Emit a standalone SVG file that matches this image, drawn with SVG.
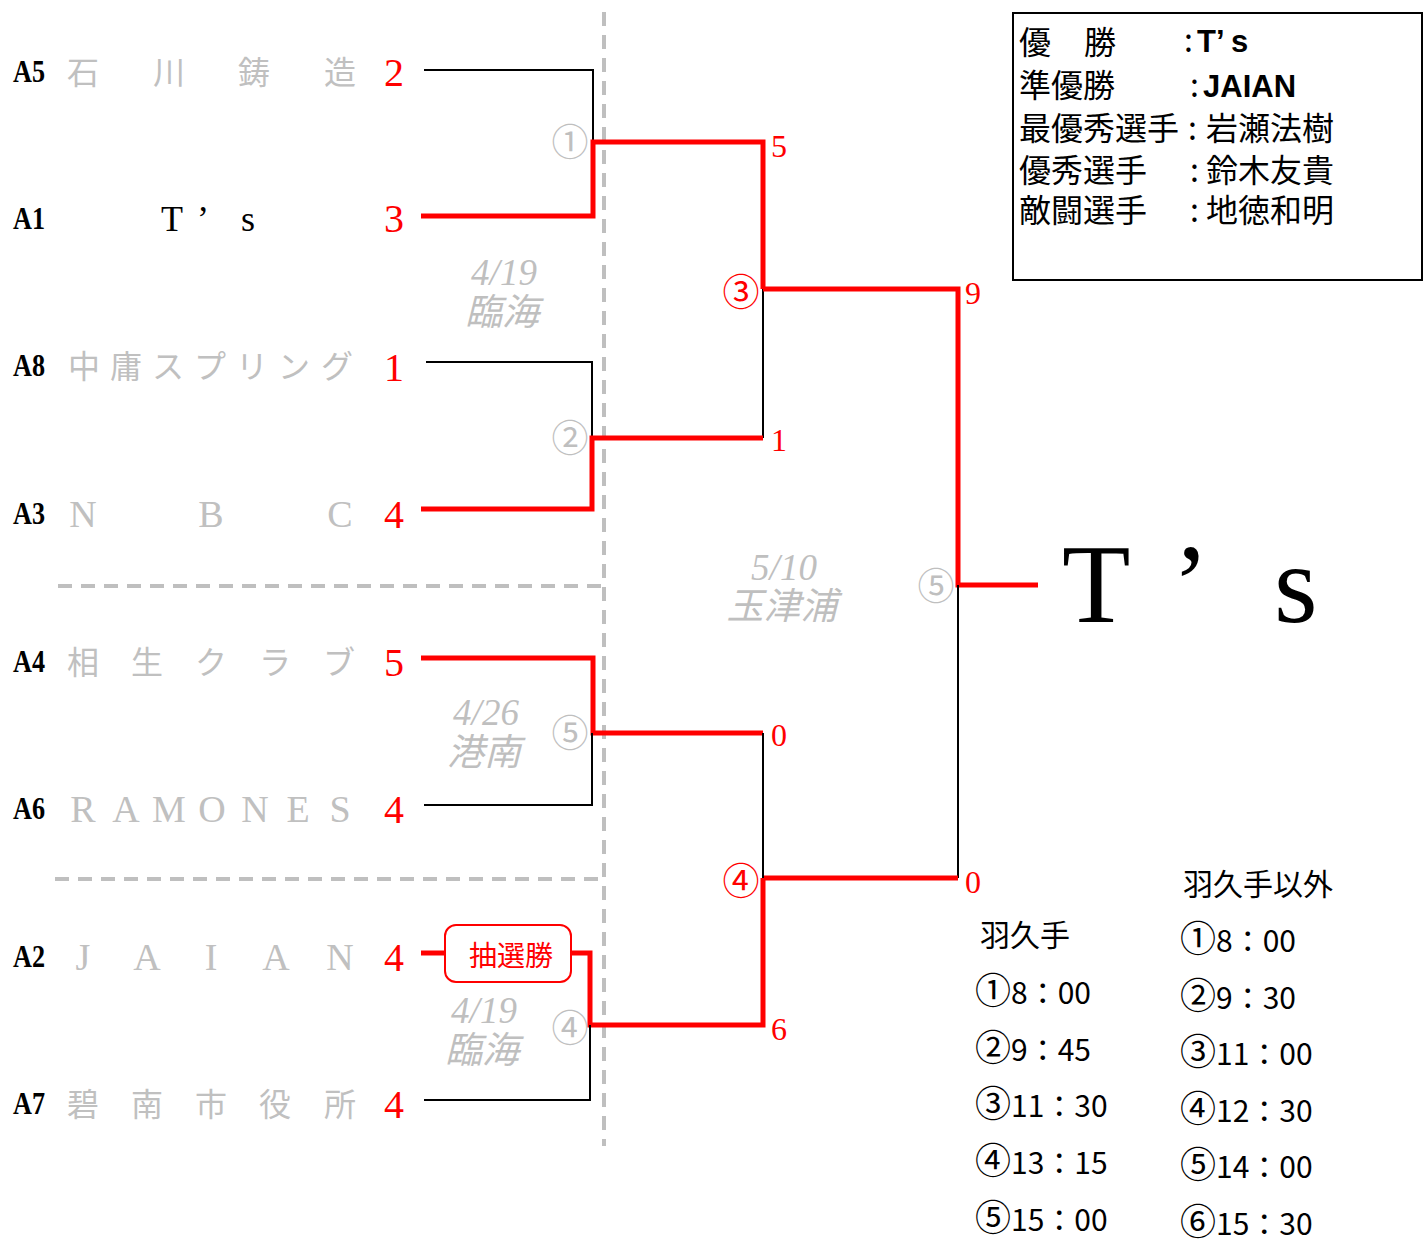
<svg xmlns="http://www.w3.org/2000/svg" width="1423" height="1247" viewBox="0 0 1423 1247">
<style>
.bg{fill:#fff}
.red{stroke:#ff0000;stroke-width:5;fill:none}
.blk{stroke:#000;stroke-width:2;fill:none}
.dash{stroke:#bfbfbf;stroke-width:4;stroke-dasharray:14 9;fill:none}
.seed{font-family:"Liberation Serif",serif;font-size:32px;font-weight:bold;fill:#000}
.name{font-family:"Liberation Serif","Noto Sans CJK JP",serif;font-size:32px;fill:#c0c0c0;text-anchor:middle}
.lat{font-size:38px}
.score{font-family:"Liberation Serif",serif;font-size:40px;fill:#ff0000;text-anchor:middle}
.rs{font-family:"Liberation Serif",serif;font-size:32px;fill:#ff0000}
.circ{font-family:"Noto Sans CJK JP",sans-serif;font-size:37px;fill:#bfbfbf;text-anchor:middle}
.circr{fill:#ff0000}
.date{font-family:"Liberation Serif","Noto Sans CJK JP",serif;font-style:italic;font-size:37px;fill:#bfbfbf;text-anchor:middle}
.sum{font-family:"Noto Sans CJK JP",sans-serif;font-size:32px;fill:#000}
.sumb{font-family:"Liberation Sans",sans-serif;font-weight:bold;font-size:31px}
.sch{font-family:"Noto Sans CJK JP",sans-serif;font-size:30px;fill:#000}
.cn{font-size:36px}
</style>
<rect class="bg" x="0" y="0" width="1423" height="1247"/>

<g id="dividers">
<line class="dash" x1="604" y1="12" x2="604" y2="1146"/>
<line class="dash" x1="58" y1="586" x2="604" y2="586"/>
<line class="dash" x1="55" y1="879" x2="604" y2="879"/>
</g>

<g id="connectors">
<polyline class="blk" points="424,70 593,70 593,142"/>
<polyline class="red" points="421,216 593,216 593,142 763,142 763,289"/>
<polyline class="blk" points="763,289 763,438"/>
<polyline class="blk" points="426,362 592,362 592,438"/>
<polyline class="red" points="421,509 592,509 592,438 763,438"/>
<polyline class="red" points="763,289 958,289 958,585 1038,585"/>
<polyline class="blk" points="958,585 958,878"/>
<polyline class="red" points="763,878 958,878"/>
<polyline class="red" points="421,658 593,658 593,733 763,733"/>
<polyline class="blk" points="763,733 763,878"/>
<polyline class="blk" points="424,805 592,805 592,733"/>
<polyline class="red" points="421,953 446,953"/>
<polyline class="red" points="570,953 590,953 590,1025 763,1025 763,878"/>
<polyline class="blk" points="424,1100 590,1100 590,1025"/>
</g>

<g id="team-A5">
<text class="seed" x="13" y="82" textLength="32" lengthAdjust="spacingAndGlyphs">A5</text>
<text class="name" x="83 169 254 340" y="84">石川鋳造</text>
<text class="score" x="394" y="86">2</text>
</g>
<g id="team-A1">
<text class="seed" x="13" y="229" textLength="32" lengthAdjust="spacingAndGlyphs">A1</text>
<text font-family="Liberation Serif,serif" font-size="36" fill="#000" x="161 197 241" y="231">T’s</text>
<text class="score" x="394" y="232">3</text>
</g>
<g id="team-A8">
<text class="seed" x="13" y="376" textLength="32" lengthAdjust="spacingAndGlyphs">A8</text>
<text class="name" x="84 126 168 210 252 294 337" y="378">中庸スプリング</text>
<text class="score" x="394" y="381">1</text>
</g>
<g id="team-A3">
<text class="seed" x="13" y="524" textLength="32" lengthAdjust="spacingAndGlyphs">A3</text>
<text class="name lat" x="83 211 340" y="527">NBC</text>
<text class="score" x="394" y="528">4</text>
</g>
<g id="team-A4">
<text class="seed" x="13" y="672" textLength="32" lengthAdjust="spacingAndGlyphs">A4</text>
<text class="name" x="83 147 211 275 339" y="674">相生クラブ</text>
<text class="score" x="394" y="676">5</text>
</g>
<g id="team-A6">
<text class="seed" x="13" y="819" textLength="32" lengthAdjust="spacingAndGlyphs">A6</text>
<text class="name lat" x="83 126 169 212 255 298 340" y="822">RAMONES</text>
<text class="score" x="394" y="823">4</text>
</g>
<g id="team-A2">
<text class="seed" x="13" y="967" textLength="32" lengthAdjust="spacingAndGlyphs">A2</text>
<text class="name lat" x="83 147 211 276 340" y="970">JAIAN</text>
<text class="score" x="394" y="971">4</text>
</g>
<g id="team-A7">
<text class="seed" x="13" y="1114" textLength="32" lengthAdjust="spacingAndGlyphs">A7</text>
<text class="name" x="83 147 211 275 340" y="1116">碧南市役所</text>
<text class="score" x="394" y="1118">4</text>
</g>

<g id="lottery">
<rect x="445" y="925" width="126" height="57" rx="11" fill="#fff" stroke="#ff0000" stroke-width="2"/>
<text font-family="Noto Sans CJK JP,sans-serif" font-size="28" fill="#ff0000" text-anchor="middle" x="511" y="966">抽選勝</text>
</g>

<g id="match-labels">
<text class="circ" x="570" y="156">①</text>
<text class="circ" x="570" y="452">②</text>
<text class="circ circr" x="741" y="306">③</text>
<text class="circ" x="570" y="747">⑤</text>
<text class="circ" x="570" y="1042">④</text>
<text class="circ circr" x="741" y="895">④</text>
<text class="circ" x="936" y="600">⑤</text>
</g>

<g id="round-scores">
<text class="rs" x="771" y="157">5</text>
<text class="rs" x="771" y="451">1</text>
<text class="rs" x="965" y="304">9</text>
<text class="rs" x="771" y="746">0</text>
<text class="rs" x="965" y="893">0</text>
<text class="rs" x="771" y="1040">6</text>
</g>

<g id="dates">
<text class="date" x="504" y="285">4/19</text>
<text class="date" x="502" y="325">臨海</text>
<text class="date" x="486" y="725">4/26</text>
<text class="date" x="484" y="765">港南</text>
<text class="date" x="484" y="1023">4/19</text>
<text class="date" x="482" y="1063">臨海</text>
<text class="date" x="784" y="580">5/10</text>
<text class="date" x="782" y="619">玉津浦</text>
</g>

<g id="champion">
<text font-family="Liberation Serif,serif" font-size="112" fill="#000" x="1062 1172 1274" y="622">T’s</text>
</g>

<g id="summary">
<rect x="1013" y="13" width="409" height="267" fill="#fff" stroke="#000" stroke-width="2"/>
<text class="sum" x="1019 1084" y="54">優勝</text>
<text class="sum" x="1184" y="52">:</text><text class="sum sumb" x="1197 1216 1231" y="52">T’s</text>
<text class="sum" x="1019" y="97">準優勝</text>
<text class="sum" x="1190" y="97">:</text><text class="sum sumb" x="1203" y="97">JAIAN</text>
<text class="sum" x="1019" y="140">最優秀選手</text>
<text class="sum" x="1188" y="140">:</text><text class="sum" x="1206" y="140">岩瀬法樹</text>
<text class="sum" x="1019" y="182">優秀選手</text>
<text class="sum" x="1190" y="182">:</text><text class="sum" x="1206" y="182">鈴木友貴</text>
<text class="sum" x="1019" y="222">敵闘選手</text>
<text class="sum" x="1190" y="222">:</text><text class="sum" x="1206" y="222">地徳和明</text>
</g>

<g id="schedule">
<text class="sch" x="980" y="946">羽久手</text>
<text class="sch" x="975" y="1004"><tspan class="cn">①</tspan>8：00</text>
<text class="sch" x="975" y="1061"><tspan class="cn">②</tspan>9：45</text>
<text class="sch" x="975" y="1117"><tspan class="cn">③</tspan>11：30</text>
<text class="sch" x="975" y="1174"><tspan class="cn">④</tspan>13：15</text>
<text class="sch" x="975" y="1231"><tspan class="cn">⑤</tspan>15：00</text>
<text class="sch" x="1183" y="895">羽久手以外</text>
<text class="sch" x="1180" y="952"><tspan class="cn">①</tspan>8：00</text>
<text class="sch" x="1180" y="1009"><tspan class="cn">②</tspan>9：30</text>
<text class="sch" x="1180" y="1065"><tspan class="cn">③</tspan>11：00</text>
<text class="sch" x="1180" y="1122"><tspan class="cn">④</tspan>12：30</text>
<text class="sch" x="1180" y="1178"><tspan class="cn">⑤</tspan>14：00</text>
<text class="sch" x="1180" y="1235"><tspan class="cn">⑥</tspan>15：30</text>
</g>
</svg>
